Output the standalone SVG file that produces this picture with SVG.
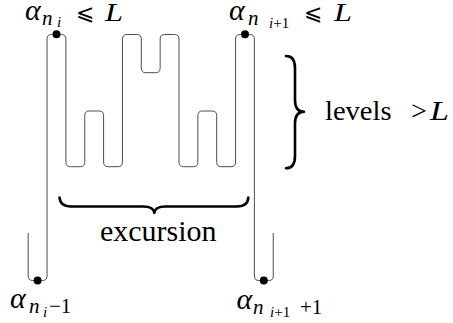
<svg xmlns="http://www.w3.org/2000/svg" width="453" height="323" viewBox="0 0 453 323">
<defs>
<style>
.path{fill:none;stroke:#3a3a3a;stroke-width:0.9}
.brace{fill:none;stroke:#000;stroke-width:2.6;stroke-linecap:round;stroke-linejoin:round}
.dot{fill:#000}
</style>
</defs>
<g id="connectors">
<path class="path" d="M28.2,233 V276 Q28.2,280.5 32.7,280.5 H42.55 Q47.05,280.5 47.05,276 V39 Q47.05,34.5 51.55,34.5 H61.4 Q65.9,34.5 65.9,39 V162.2 Q65.9,166.7 70.4,166.7 H80.25 Q84.75,166.7 84.75,162.2 V115.5 Q84.75,111 89.25,111 H99.1 Q103.6,111 103.6,115.5 V162.2 Q103.6,166.7 108.1,166.7 H117.95 Q122.45,166.7 122.45,162.2 V39 Q122.45,34.5 126.95,34.5 H136.8 Q141.3,34.5 141.3,39 V68.2 Q141.3,72.7 145.8,72.7 H155.65 Q160.15,72.7 160.15,68.2 V39 Q160.15,34.5 164.65,34.5 H174.5 Q179,34.5 179,39 V162.2 Q179,166.7 183.5,166.7 H193.35 Q197.85,166.7 197.85,162.2 V115.5 Q197.85,111 202.35,111 H212.2 Q216.7,111 216.7,115.5 V162.2 Q216.7,166.7 221.2,166.7 H231.05 Q235.55,166.7 235.55,162.2 V39 Q235.55,34.5 240.05,34.5 H249.9 Q254.4,34.5 254.4,39 V276 Q254.4,280.5 258.9,280.5 H268.75 Q273.25,280.5 273.25,276 V233"/>
</g>
<g id="dots">
<circle class="dot" cx="37.6" cy="280.5" r="4"/>
<circle class="dot" cx="56.5" cy="34.3" r="4"/>
<circle class="dot" cx="245" cy="34.3" r="4"/>
<circle class="dot" cx="263.8" cy="280.5" r="4"/>
</g>
<g id="brace-levels">
<path class="brace" d="M286,56 C292.5,56 295,60 295,68 L295,100 C295,107.5 297.5,111.7 304,111.7 C297.5,111.7 295,116 295,123.5 L295,156 C295,164 292.5,168.3 286,168.3"/>
<text font-family="'Liberation Serif', serif" font-size="28" x="325" y="120" textLength="66.5" lengthAdjust="spacingAndGlyphs">levels</text>
<text font-family="'Liberation Serif', serif" font-size="28" x="411" y="120">&gt;</text>
<text font-family="'Liberation Serif', serif" font-style="italic" font-size="28" x="430" y="120" textLength="19" lengthAdjust="spacingAndGlyphs">L</text>
</g>
<g id="brace-excursion">
<path class="brace" d="M59.5,197.5 C60,203 63.5,206.5 71,206.5 L143,206.5 C150,206.5 154,209 154.3,213 C154.6,209 158.5,206.5 165.5,206.5 L237,206.5 C244.5,206.5 248,203 248.3,197.5"/>
<text font-family="'Liberation Serif', serif" font-size="29" x="100" y="241" textLength="116.5" lengthAdjust="spacingAndGlyphs">excursion</text>
</g>
<g id="label-top-left">
<text font-family="'Liberation Serif', serif" font-style="italic" font-size="30" x="25" y="20">α</text>
<text font-family="'Liberation Serif', serif" font-style="italic" font-size="21" x="42" y="24.5">n</text>
<text font-family="'Liberation Serif', serif" font-style="italic" font-size="15" x="57" y="27">i</text>
<text font-family="'DejaVu Serif', 'DejaVu Sans', serif" font-size="22" x="76" y="20">⩽</text>
<text font-family="'Liberation Serif', serif" font-style="italic" font-size="25" x="105" y="20.5" textLength="18" lengthAdjust="spacingAndGlyphs">L</text>
</g>
<g id="label-top-right">
<text font-family="'Liberation Serif', serif" font-style="italic" font-size="30" x="229" y="20">α</text>
<text font-family="'Liberation Serif', serif" font-style="italic" font-size="21" x="248" y="24.5">n</text>
<text font-family="'Liberation Serif', serif" font-size="15" x="269" y="27.5"><tspan font-style="italic">i</tspan>+1</text>
<text font-family="'DejaVu Serif', 'DejaVu Sans', serif" font-size="22" x="304" y="20">⩽</text>
<text font-family="'Liberation Serif', serif" font-style="italic" font-size="25" x="334" y="20.5" textLength="18" lengthAdjust="spacingAndGlyphs">L</text>
</g>
<g id="label-bottom-left">
<text font-family="'Liberation Serif', serif" font-style="italic" font-size="30" x="10" y="308">α</text>
<text font-family="'Liberation Serif', serif" font-style="italic" font-size="21" x="29" y="313">n</text>
<text font-family="'Liberation Serif', serif" font-style="italic" font-size="15" x="43" y="316.5">i</text>
<text font-family="'Liberation Serif', serif" font-size="21" x="49" y="313">−1</text>
</g>
<g id="label-bottom-right">
<text font-family="'Liberation Serif', serif" font-style="italic" font-size="30" x="236.5" y="309">α</text>
<text font-family="'Liberation Serif', serif" font-style="italic" font-size="21" x="253" y="313.5">n</text>
<text font-family="'Liberation Serif', serif" font-size="15" x="270" y="317"><tspan font-style="italic">i</tspan>+1</text>
<text font-family="'Liberation Serif', serif" font-size="21" x="300" y="313.5">+1</text>
</g>
</svg>
